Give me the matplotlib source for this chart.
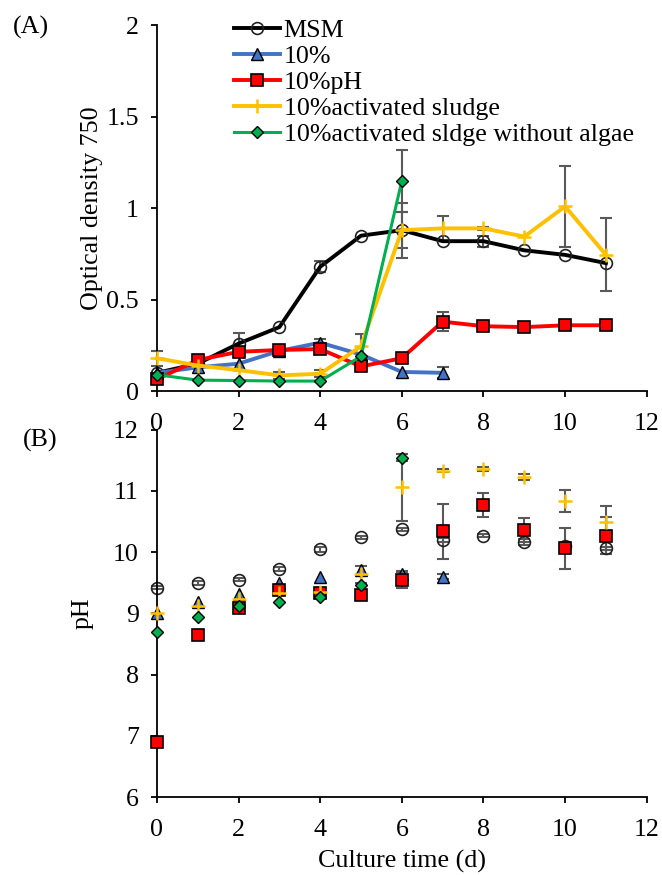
import numpy as np
import matplotlib
matplotlib.use('Agg')
import matplotlib.pyplot as plt

plt.rcParams['font.family'] = ['Liberation Serif', 'DejaVu Serif']
plt.rcParams['font.size'] = 18.7

# Data
days = np.arange(12)
labels = ['MSM', '10%', '10%pH', '10%activated sludge', '10%activated sldge without algae']
colors = ['black', '#4472C4', '#FF0000', '#FFC000', '#00B050']

# (A) optical density
od_msm = [0.10, 0.15, 0.26, 0.35, 0.68, 0.85, 0.88, 0.82, 0.82, 0.77, 0.745, 0.70]
od_10 = [0.10, 0.13, 0.15, 0.22, 0.265, 0.20, 0.105, 0.10]
od_ph = [0.065, 0.17, 0.215, 0.225, 0.23, 0.135, 0.18, 0.38, 0.355, 0.35, 0.36, 0.36]
od_sludge = [0.18, 0.14, 0.115, 0.086, 0.095, 0.245, 0.88, 0.89, 0.89, 0.845, 1.01, 0.745]
od_noalgae = [0.09, 0.06, 0.058, 0.055, 0.055, 0.19, 1.15]

od_msm_err = [0, 0, 0.06, 0, 0.03, 0, 0.10, 0, 0.03, 0, 0, 0]
od_10_err = [0, 0, 0, 0, 0.02, 0, 0, 0.03]
od_ph_err = [0, 0, 0, 0, 0, 0, 0, 0.05, 0, 0, 0, 0]
od_sludge_err = [0.04, 0, 0, 0.02, 0.02, 0.07, 0.15, 0.07, 0.01, 0, 0.22, 0.20]
od_noalgae_err = [0, 0, 0, 0, 0, 0, 0.17]

# (B) pH
ph_msm = [9.42, 9.50, 9.55, 9.72, 10.05, 10.24, 10.37, 10.20, 10.27, 10.16, 10.10, 10.06]
ph_10 = [9.00, 9.19, 9.32, 9.49, 9.59, 9.71, 9.65, 9.60]
ph_ph = [6.90, 8.64, 9.09, 9.38, 9.33, 9.30, 9.55, 10.34, 10.77, 10.36, 10.06, 10.27]
ph_sludge = [9.01, 9.12, 9.24, 9.34, 9.35, 9.64, 11.06, 11.33, 11.36, 11.23, 10.83, 10.50]
ph_noalgae = [8.69, 8.94, 9.12, 9.18, 9.26, 9.47, 11.54]

ph_msm_err = [0.02, 0.03, 0.02, 0.03, 0.04, 0.02, 0.03, 0.03, 0.02, 0.05, 0.03, 0.03]
ph_10_err = [0, 0, 0, 0, 0, 0, 0.04, 0.04]
ph_ph_err = [0, 0, 0, 0, 0, 0, 0.13, 0.45, 0.19, 0.20, 0.34, 0.30]
ph_sludge_err = [0, 0, 0, 0, 0, 0.14, 0.55, 0.02, 0.03, 0.05, 0.18, 0.25]
ph_noalgae_err = [0, 0, 0, 0, 0, 0, 0.06]

marker_kw = [
    dict(marker='o', markersize=8.5, markerfacecolor='none', markeredgecolor='#222222', markeredgewidth=1.2),
    dict(marker='^', markersize=8, markerfacecolor='#4472C4', markeredgecolor='black', markeredgewidth=1),
    dict(marker='s', markersize=9, markerfacecolor='#FF0000', markeredgecolor='black', markeredgewidth=1.2),
    dict(marker='+', markersize=10, markerfacecolor='#FFC000', markeredgecolor='#FFC000', markeredgewidth=1.8),
    dict(marker='D', markersize=6, markerfacecolor='#00B050', markeredgecolor='black', markeredgewidth=1),
]
line_widths = [2.8, 2.8, 2.8, 2.8, 2.2]

fig = plt.figure(figsize=(6.62, 8.75), dpi=100)
ax1 = fig.add_axes([0.237, 0.553, 0.740, 0.418])
ax2 = fig.add_axes([0.237, 0.089, 0.740, 0.420])
ax2.patch.set_visible(False)
ax1.set_zorder(2)


def add_err(ax, vals, errs):
    idx = [i for i, e in enumerate(errs) if e > 0]
    if idx:
        ax.errorbar([days[i] for i in idx], [vals[i] for i in idx], yerr=[errs[i] for i in idx],
                    fmt='none', ecolor='#595959', elinewidth=1.5, capsize=4, capthick=1.5, zorder=1)


od_series = [od_msm, od_10, od_ph, od_sludge, od_noalgae]
od_errs = [od_msm_err, od_10_err, od_ph_err, od_sludge_err, od_noalgae_err]
for k in range(5):
    x = days[:len(od_series[k])]
    add_err(ax1, od_series[k], od_errs[k])
    ax1.plot(x, od_series[k], color=colors[k], lw=line_widths[k], label=labels[k],
             zorder=2 + k, **marker_kw[k])

ph_series = [ph_msm, ph_10, ph_ph, ph_sludge, ph_noalgae]
ph_errs = [ph_msm_err, ph_10_err, ph_ph_err, ph_sludge_err, ph_noalgae_err]
for k in range(5):
    x = days[:len(ph_series[k])]
    add_err(ax2, ph_series[k], ph_errs[k])
    ax2.plot(x, ph_series[k], linestyle='none', zorder=2 + k, **marker_kw[k])

for ax in (ax1, ax2):
    ax.spines['top'].set_visible(False)
    ax.spines['right'].set_visible(False)
    ax.spines['left'].set_linewidth(1.3)
    ax.spines['bottom'].set_linewidth(1.3)
    ax.set_xlim(0, 12)
    ax.set_xticks(range(0, 13, 2))
    ax.tick_params(axis='both', direction='out', length=4, width=1.3)
    ax.tick_params(axis='x', pad=12)
    ax.tick_params(axis='y', pad=9)

ax1.set_ylim(0, 2)
ax1.set_yticks([0, 0.5, 1, 1.5, 2])
ax1.set_yticklabels(['0', '0.5', '1', '1.5', '2'])
ax1.set_ylabel('Optical density 750', labelpad=2)

ax2.set_ylim(6, 12)
ax2.set_yticks(range(6, 13))
ax2.set_ylabel('pH', labelpad=14)
ax2.set_xlabel('Culture time (d)', labelpad=6)

for a in (ax1, ax2):
    for ln in a.lines:
        ln.set_clip_on(False)

leg = ax1.legend(loc='upper left', bbox_to_anchor=(0.137, 1.045), frameon=False,
                 handlelength=1.75, handletextpad=0.15, labelspacing=0.1, borderaxespad=0)

fig.text(0.02, 0.962, '(A)', fontsize=18.7)
fig.text(0.034, 0.49, '(B)', fontsize=18.7)

plt.savefig('out.png', dpi=100)
